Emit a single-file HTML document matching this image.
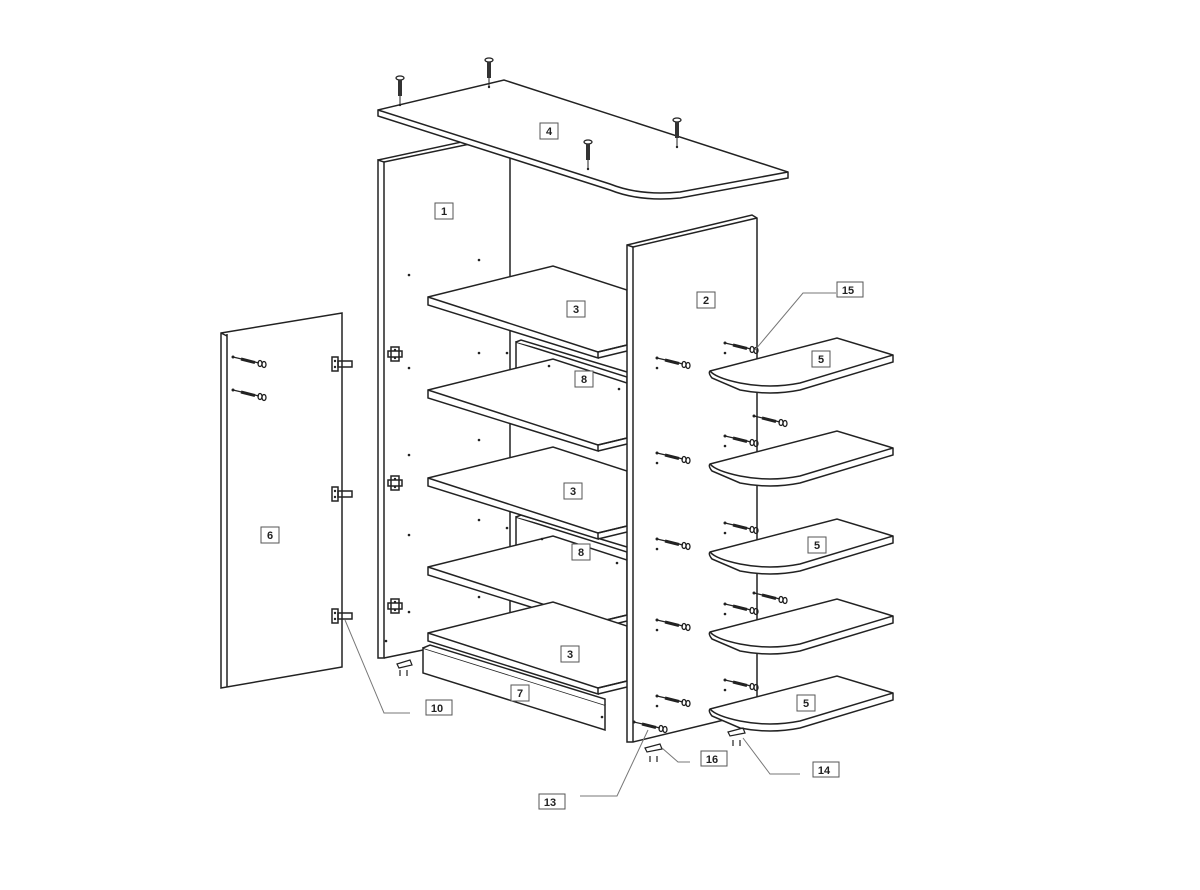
<!DOCTYPE html>
<html><head><meta charset="utf-8"><style>
html,body{margin:0;padding:0;background:#fff}
svg{display:block}
text{font-family:"Liberation Sans",sans-serif;font-size:11px;font-weight:bold;fill:#222}
</style></head><body>
<svg width="1200" height="890" viewBox="0 0 1200 890" xmlns="http://www.w3.org/2000/svg">
<defs>
<g id="scr"><line x1="0" y1="0" x2="26" y2="6" stroke="#222" stroke-width="1.2"/><line x1="8" y1="2" x2="22" y2="5.5" stroke="#222" stroke-width="3"/><ellipse cx="27" cy="6.5" rx="2" ry="3" fill="none" stroke="#222" stroke-width="1.3"/><ellipse cx="31" cy="7.5" rx="2" ry="3" fill="none" stroke="#222" stroke-width="1.3"/><circle cx="0" cy="0" r="1.5" fill="#222"/></g>
<g id="dow"><ellipse cx="0" cy="0" rx="4" ry="2" fill="none" stroke="#222" stroke-width="1.3"/><rect x="-2" y="2" width="4" height="16" fill="#333"/><line x1="0" y1="18" x2="0" y2="26" stroke="#222"/><circle cx="0" cy="27" r="1.2" fill="#222"/></g>
<g id="hng"><rect x="0" y="0" width="6" height="14" fill="none" stroke="#222" stroke-width="1.5"/><rect x="6" y="4" width="14" height="6" fill="none" stroke="#222" stroke-width="1.5"/><circle cx="3" cy="4" r="1.2" fill="#222"/><circle cx="3" cy="10" r="1.2" fill="#222"/></g>
<g id="plt"><rect x="-4" y="-7" width="8" height="14" fill="none" stroke="#222" stroke-width="1.5"/><rect x="-7" y="-3" width="14" height="6" fill="none" stroke="#222" stroke-width="1.5"/><circle cx="0" cy="-4" r="1.2" fill="#222"/><circle cx="0" cy="4" r="1.2" fill="#222"/></g>
<g id="sh3" fill="#fff" stroke="#222" stroke-width="1.5"><path d="M428,0 L553,-31 L627,-7 L627,48 L598,55 L598,61 L428,8 Z"/><path d="M428,0 L598,55" fill="none"/><path d="M598,55 L627,48 M598,61 L627,54" fill="none"/></g>
<g id="sh5" fill="#fff" stroke="#222" stroke-width="1.5"><path d="M710,33 L837,0 L893,17 L893,24 L800,52 Q770,58 740,52 L712,40 Q708,35 710,33 Z"/><path d="M710,33 Q716,40 740,45 Q770,51 800,45 L893,17" fill="none"/></g>
</defs>
<g fill="none" stroke="#222" stroke-width="1.5">
<path d="M378,160 L378,658 L384,658 L384,162 Z" fill="#fff"/>
<path d="M378,160 L466,141 L470,144 L384,162"/>
<line x1="510" y1="155" x2="510" y2="655"/>
<line x1="384" y1="658" x2="423" y2="650"/>
<path d="M221,333 L342,313 L342,667 L221,688 Z" fill="#fff"/>
<line x1="227" y1="334" x2="227" y2="687"/>
<line x1="221" y1="333" x2="227" y2="336"/>
</g>
<g fill="#fff" stroke="#222" stroke-width="1.5">
<path d="M516,342 L627,377 L627,410 L516,375 Z"/><path d="M516,342 L521,340 L627,372"/>
<path d="M516,517 L627,552 L627,585 L516,550 Z"/><path d="M516,517 L521,515 L627,547"/>
<path d="M423,648 L605,705 L605,730 L423,673 Z"/><path d="M423,648 L430,645 L605,699 L605,705"/>
</g>
<use href="#sh3" transform="translate(0,297)"/>
<use href="#sh3" transform="translate(0,390)"/>
<use href="#sh3" transform="translate(0,478)"/>
<use href="#sh3" transform="translate(0,567)"/>
<use href="#sh3" transform="translate(0,633)"/>
<g fill="#fff" stroke="#222" stroke-width="1.5">
<path d="M627,245 L752,215 L757,218 L757,712 L633,742 L627,742 Z"/>
<line x1="633" y1="247" x2="633" y2="742"/>
<line x1="627" y1="245" x2="633" y2="247"/><line x1="633" y1="247" x2="757" y2="218"/>
</g>
<g fill="#fff" stroke="#222" stroke-width="1.5">
<path d="M378,110 L504,80 L788,172 L788,178 L680,198 Q640,202 610,190 L378,116 Z"/>
<path d="M378,110 L610,184 Q640,196 680,192 L788,172" fill="none"/>
</g>
<use href="#sh5" transform="translate(0,338)"/>
<use href="#sh5" transform="translate(0,431)"/>
<use href="#sh5" transform="translate(0,519)"/>
<use href="#sh5" transform="translate(0,599)"/>
<use href="#sh5" transform="translate(0,676)"/>
<use href="#dow" transform="translate(400,78)"/>
<use href="#dow" transform="translate(489,60)"/>
<use href="#dow" transform="translate(588,142)"/>
<use href="#dow" transform="translate(677,120)"/>
<g>
<use href="#scr" transform="translate(657,358)"/><use href="#scr" transform="translate(657,453)"/><use href="#scr" transform="translate(657,539)"/><use href="#scr" transform="translate(657,620)"/><use href="#scr" transform="translate(657,696)"/>
<use href="#scr" transform="translate(725,343)"/><use href="#scr" transform="translate(725,436)"/><use href="#scr" transform="translate(725,523)"/><use href="#scr" transform="translate(725,604)"/><use href="#scr" transform="translate(725,680)"/>
<use href="#scr" transform="translate(754,416)"/><use href="#scr" transform="translate(754,593)"/>
<use href="#scr" transform="translate(634,722)"/>
<use href="#scr" transform="translate(233,357)"/><use href="#scr" transform="translate(233,390)"/>
</g>
<g fill="#222">
<circle cx="657" cy="368" r="1.3"/><circle cx="657" cy="463" r="1.3"/><circle cx="657" cy="549" r="1.3"/><circle cx="657" cy="630" r="1.3"/><circle cx="657" cy="706" r="1.3"/>
<circle cx="725" cy="353" r="1.3"/><circle cx="725" cy="446" r="1.3"/><circle cx="725" cy="533" r="1.3"/><circle cx="725" cy="614" r="1.3"/><circle cx="725" cy="690" r="1.3"/>
<circle cx="409" cy="275" r="1.3"/><circle cx="479" cy="260" r="1.3"/><circle cx="409" cy="368" r="1.3"/><circle cx="479" cy="353" r="1.3"/><circle cx="507" cy="353" r="1.3"/>
<circle cx="409" cy="455" r="1.3"/><circle cx="479" cy="440" r="1.3"/><circle cx="409" cy="535" r="1.3"/><circle cx="479" cy="520" r="1.3"/><circle cx="507" cy="528" r="1.3"/>
<circle cx="409" cy="612" r="1.3"/><circle cx="479" cy="597" r="1.3"/><circle cx="386" cy="641" r="1.3"/>
<circle cx="549" cy="366" r="1.3"/><circle cx="619" cy="389" r="1.3"/><circle cx="542" cy="539" r="1.3"/><circle cx="617" cy="563" r="1.3"/><circle cx="602" cy="717" r="1.3"/>
</g>
<use href="#hng" transform="translate(332,357)"/><use href="#hng" transform="translate(332,487)"/><use href="#hng" transform="translate(332,609)"/>
<use href="#plt" transform="translate(395,354)"/><use href="#plt" transform="translate(395,483)"/><use href="#plt" transform="translate(395,606)"/>
<g fill="none" stroke="#222" stroke-width="1.2">
<path d="M397,664 L410,660 L412,665 L399,668 Z"/><path d="M400,670 v6 M407,670 v6"/>
<path d="M645,748 L660,744 L662,749 L647,752 Z"/><path d="M650,756 v6 M657,756 v6"/>
<path d="M728,732 L743,728 L745,733 L730,736 Z"/><path d="M733,740 v6 M740,740 v6"/>
</g>
<g fill="none" stroke="#777" stroke-width="1">
<path d="M836,293 L803,293 L755,350"/>
<path d="M410,713 L384,713 L345,620"/>
<path d="M580,796 L617,796 L648,730"/>
<path d="M690,762 L678,762 L662,748"/>
<path d="M800,774 L770,774 L743,738"/>
</g>
<g fill="#fff" stroke="#555" stroke-width="1">
<rect x="540" y="123" width="18" height="16"/><rect x="435" y="203" width="18" height="16"/><rect x="697" y="292" width="18" height="16"/>
<rect x="567" y="301" width="18" height="16"/><rect x="575" y="371" width="18" height="16"/><rect x="564" y="483" width="18" height="16"/><rect x="572" y="544" width="18" height="16"/><rect x="561" y="646" width="18" height="16"/>
<rect x="511" y="685" width="18" height="16"/><rect x="261" y="527" width="18" height="16"/>
<rect x="812" y="351" width="18" height="16"/><rect x="808" y="537" width="18" height="16"/><rect x="797" y="695" width="18" height="16"/>
<rect x="837" y="282" width="26" height="15"/><rect x="426" y="700" width="26" height="15"/><rect x="539" y="794" width="26" height="15"/><rect x="701" y="751" width="26" height="15"/><rect x="813" y="762" width="26" height="15"/>
</g>
<g text-anchor="middle">
<text x="549" y="135">4</text><text x="444" y="215">1</text><text x="706" y="304">2</text>
<text x="576" y="313">3</text><text x="584" y="383">8</text><text x="573" y="495">3</text><text x="581" y="556">8</text><text x="570" y="658">3</text>
<text x="520" y="697">7</text><text x="270" y="539">6</text>
<text x="821" y="363">5</text><text x="817" y="549">5</text><text x="806" y="707">5</text>
<text x="848" y="294">15</text><text x="437" y="712">10</text><text x="550" y="806">13</text><text x="712" y="763">16</text><text x="824" y="774">14</text>
</g>
</svg>
</body></html>
